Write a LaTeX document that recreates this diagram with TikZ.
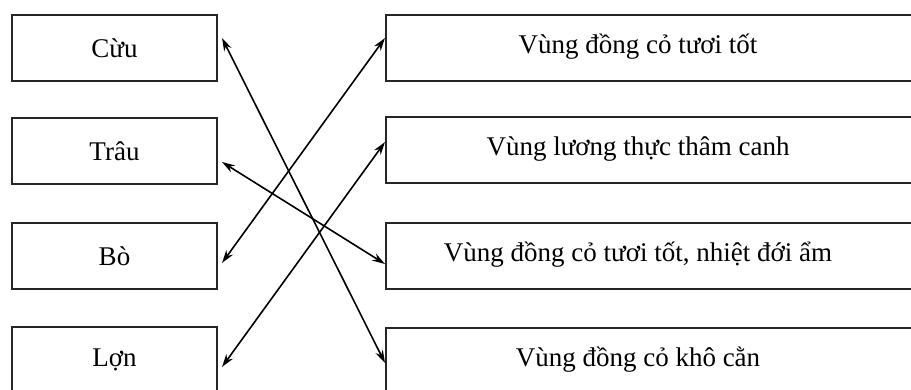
\documentclass[tikz,border=0pt]{standalone}
\usepackage{fontspec}
\setmainfont{Liberation Serif}
\usetikzlibrary{arrows.meta}
\begin{document}
\begin{tikzpicture}[x=1pt,y=-1pt,
  lbox/.style={draw=black!85,line width=2pt,minimum width=205pt,minimum height=66pt,inner sep=0pt,font=\fontsize{27}{30}\selectfont},
  rbox/.style={draw=black!85,line width=2pt,minimum width=560pt,minimum height=66pt,inner sep=0pt},
  rtext/.style={inner sep=0pt,font=\fontsize{27}{30}\selectfont},
  link/.style={line width=1.6pt,{Stealth[length=13pt,width=8pt]}-{Stealth[length=13pt,width=8pt]}}
]
\useasboundingbox (0,0) rectangle (911,390);
\clip (0,0) rectangle (911,390);
\node[lbox] (cuu)  at (114.5,48)  {Cừu};
\node[lbox] (trau) at (114.5,151.5) {Trâu};
\node[lbox] (bo)   at (114.5,256) {Bò};
\node[lbox] (lon)  at (114.5,360) {Lợn};
\node[rbox] (r1) at (666,48) {};
\node[rbox] (r2) at (666,150.5) {};
\node[rbox] (r3) at (666,256) {};
\node[rbox] (r4) at (666,361) {};
\node[rtext] (t1) at (638,47) {Vùng đồng cỏ tươi tốt};
\node[rtext] (t2) at (638,149.5) {Vùng lương thực thâm canh};
\node[rtext] (t3) at (638,255) {Vùng đồng cỏ tươi tốt, nhiệt đới ẩm};
\node[rtext] (t4) at (638,360) {Vùng đồng cỏ khô cằn};
\draw[link] ([xshift=4pt,yshift=10pt]cuu.east) -- ([yshift=-2pt]r4.west);
\draw[link] ([xshift=4pt,yshift=-10.5pt]trau.east) -- ([yshift=-8pt]r3.west);
\draw[link] ([xshift=4pt,yshift=-7pt]bo.east) -- ([yshift=10pt]r1.west);
\draw[link] ([xshift=4pt,yshift=-7pt]lon.east) -- ([yshift=8.5pt]r2.west);
\end{tikzpicture}
\end{document}
